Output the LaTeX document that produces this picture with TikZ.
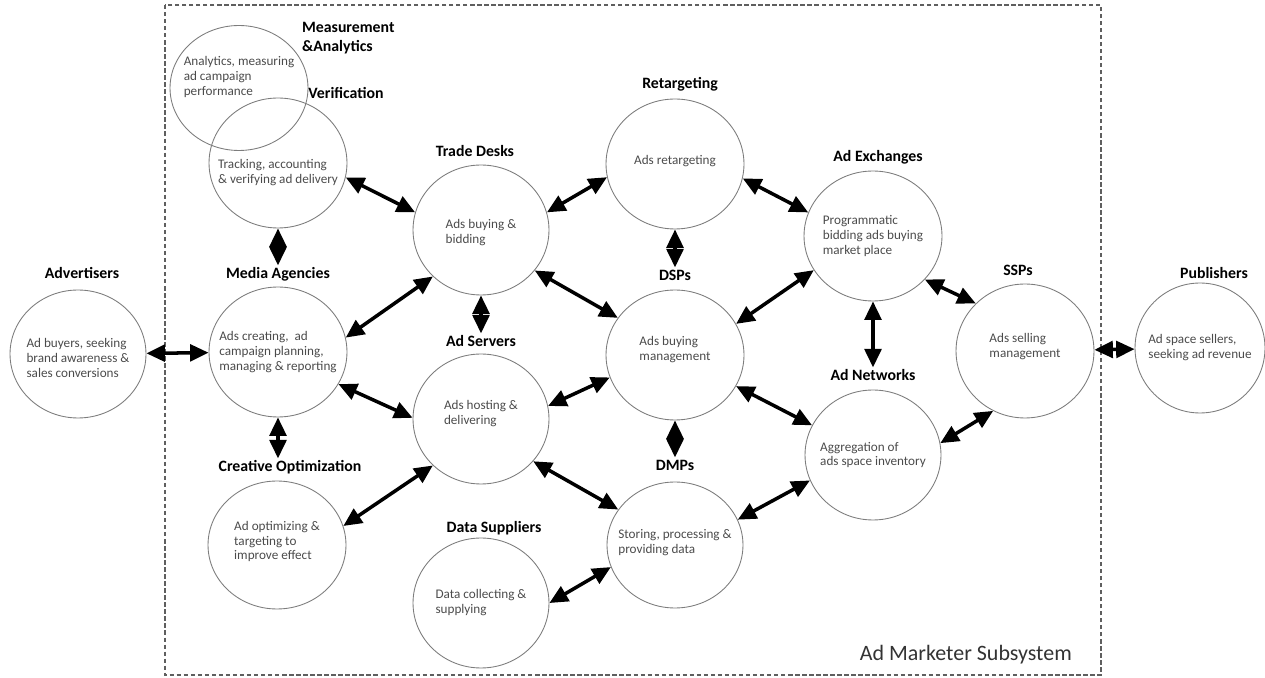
\documentclass[tikz,border=0pt]{standalone}
\usepackage{fontspec}
\setmainfont{Carlito}
\usetikzlibrary{shapes.geometric,arrows.meta}
\definecolor{bodytext}{RGB}{75,75,75}
\definecolor{rimcolor}{RGB}{125,125,125}
\definecolor{framecolor}{RGB}{95,95,95}
\tikzset{
  role/.style={draw=rimcolor, line width=0.5pt, ellipse, inner sep=0pt, minimum width=2.76cm, minimum height=2.6cm},
  roletext/.style={align=left, inner sep=0pt, font=\fontsize{7.5}{8.5}\selectfont, text=bodytext},
  rolefont/.style={font=\fontsize{9}{10.8}\selectfont\bfseries, inner sep=1pt},
  rolename/.style={rolefont, text height=6.5pt, text depth=2pt},
  link/.style={{Triangle[length=10.5pt,width=9.5pt]}-{Triangle[length=10.5pt,width=9.5pt]}, line width=2pt},
  frame/.style={draw=framecolor, line width=0.6pt, dash pattern=on 2.5pt off 1.5pt}
}
\begin{document}
\begin{tikzpicture}[x=0.02cm, y=-0.02cm]
    \useasboundingbox (0,0) rectangle (1265,678);

    % Subsystem frame
    \draw[frame] (165,5) rectangle (1101,675);
    \node[anchor=east, font=\fontsize{12.5}{14}\selectfont, text=black!80] (subsys) at (1078,655) {Ad Marketer Subsystem};

    % Outside parties
    \node[role, minimum width=2.72cm, minimum height=2.56cm, label={[roletext, yshift=-0.08cm]center:{Ad buyers, seeking\\brand awareness \&\\sales conversions}}] (adv) at (78,354) {};
    \node[rolename] (adv-l) at (82,275) {Advertisers};
    \node[role, minimum width=2.6cm, minimum height=2.6cm, label={[roletext]center:{Ad space sellers,\\seeking ad revenue}}] (pub) at (1200,348) {};
    \node[rolename] (pub-l) at (1214,275) {Publishers};

    % Left column
    \node[role, minimum height=2.5cm, label={[roletext, yshift=0.22cm]center:{Analytics, measuring\\ad campaign\\performance}}] (meas) at (239,88) {};
    \node[rolefont, align=left, anchor=west] (meas-l) at (300,38) {Measurement\\\&Analytics};
    \node[role, label={[roletext, yshift=-0.2cm]center:{Tracking, accounting\\\& verifying ad delivery}}] (veri) at (278,163) {};
    \node[rolename] (veri-l) at (346,95) {Verification};
    \node[role, label={[roletext]center:{Ads creating,~ ad\\campaign planning,\\managing \& reporting}}] (media) at (278,352) {};
    \node[rolename] (media-l) at (278,275) {Media Agencies};
    \node[role, minimum height=2.56cm, label={[roletext, yshift=0.07cm]center:{Ad optimizing \&\\targeting to\\improve effect}}] (creat) at (277,545) {};
    \node[rolename] (creat-l) at (290,468) {Creative Optimization};

    % Second column
    \node[role, minimum width=2.72cm, label={[roletext, yshift=-0.05cm]center:{Ads buying \&\\bidding}}] (trade) at (481,230) {};
    \node[rolename] (trade-l) at (475,153) {Trade Desks};
    \node[role, minimum width=2.72cm, label={[roletext, yshift=0.11cm]center:{Ads hosting \&\\delivering}}] (serv) at (481,419) {};
    \node[rolename] (serv-l) at (481,343) {Ad Servers};
    \node[role, minimum width=2.72cm, label={[roletext]center:{Data collecting \&\\supplying}}] (sup) at (481,603) {};
    \node[rolename] (sup-l) at (494,529) {Data Suppliers};

    % Third column
    \node[role, label={[roletext, yshift=0.06cm]center:{Ads retargeting}}] (retar) at (675,164) {};
    \node[rolename] (retar-l) at (680,85) {Retargeting};
    \node[role, label={[roletext, yshift=0.11cm]center:{Ads buying\\management}}] (dsp) at (675,355) {};
    \node[rolename] (dsp-l) at (675,277) {DSPs};
    \node[role, minimum width=2.72cm, minimum height=2.52cm, label={[roletext, yshift=0.05cm]center:{Storing, processing \&\\providing data}}] (dmp) at (675,545) {};
    \node[rolename] (dmp-l) at (675,467) {DMPs};

    % Fourth column
    \node[role, label={[roletext]center:{Programmatic\\bidding ads buying\\market place}}] (adex) at (873,236) {};
    \node[rolename] (adex-l) at (878,158) {Ad Exchanges};
    \node[role, minimum width=2.72cm, label={[roletext]center:{Aggregation of\\ads space inventory}}] (adnet) at (873,455) {};
    \node[rolename] (adnet-l) at (873,377) {Ad Networks};
    \node[role, minimum height=2.68cm, label={[roletext, yshift=0.08cm]center:{Ads selling\\management}}] (ssp) at (1025,351) {};
    \node[rolename] (ssp-l) at (1018,272) {SSPs};

    % Links
    \draw[link] (adv) -- (media);
    \draw[link] (veri.-12) -- (trade.165);
    \draw[link] (veri) -- (media-l);
    \draw[link] (media.12) -- (trade.224);
    \draw[link] (media.-28) -- (serv.179);
    \draw[link] (media.south) -- (media.south |- creat-l.north);
    \draw[link] (creat.16) -- (serv.224);
    \draw[link] (trade.15) -- (retar.191);
    \draw[link] (trade.-37) -- (dsp.147);
    \draw[link] (trade) -- (serv-l);
    \draw[link] (retar) -- (dsp-l);
    \draw[link] (retar.-12) -- (adex.160);
    \draw[link] (serv.11) -- (dsp.199);
    \draw[link] (serv.-39) -- (dmp.148);
    \draw[link] (dsp.27) -- (adex.210);
    \draw[link] (dsp.-27) -- (adnet.154);
    \draw[link] (dsp) -- (dmp-l);
    \draw[link] (sup.0) -- (dmp.199);
    \draw[link] (dmp.22) -- (adnet.202);
    \draw[link] (adex.-40) -- (ssp.136);
    \draw[link] (adex) -- (adnet-l);
    \draw[link] (adnet.10) -- (ssp.242);
    \draw[link] (ssp) -- (pub);
\end{tikzpicture}
\end{document}
